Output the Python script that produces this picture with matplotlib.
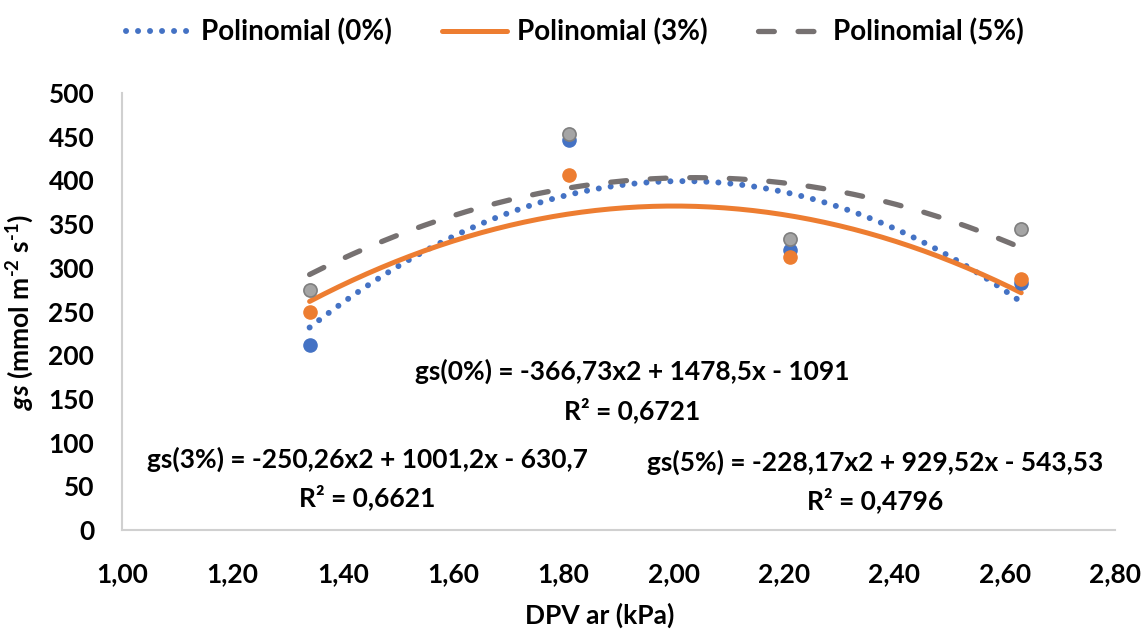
import matplotlib
matplotlib.use('Agg')
import matplotlib.pyplot as plt
from matplotlib.ticker import FuncFormatter
import numpy as np

# DPV ar (kPa) for each measurement
dpv = [1.34, 1.81, 2.21, 2.63]

# gs (mmol m-2 s-1) per treatment
gs_0 = [212, 446, 320, 283]
gs_3 = [250, 406, 312, 287]
gs_5 = [275, 453, 333, 344]

# trendline coefficients (a, b, c) as printed on the chart
coef_0 = [-366.73, 1478.5, -1091]
coef_3 = [-250.26, 1001.2, -630.7]
coef_5 = [-228.17, 929.52, -543.53]

labels = ['Polinomial (0%)', 'Polinomial (3%)', 'Polinomial (5%)']
eq_lines = [('gs(0%) = -366,73x2 + 1478,5x - 1091', 'R² = 0,6721'),
            ('gs(3%) = -250,26x2 + 1001,2x - 630,7', 'R² = 0,6621'),
            ('gs(5%) = -228,17x2 + 929,52x - 543,53', 'R² = 0,4796')]

FONT = 'Lato'
plt.rcParams['font.family'] = [FONT, 'DejaVu Sans']
plt.rcParams['mathtext.fontset'] = 'custom'
plt.rcParams['mathtext.rm'] = 'Lato:bold'
plt.rcParams['mathtext.it'] = 'Lato:italic:bold'
plt.rcParams['mathtext.bf'] = 'Lato:bold'

blue, orange, gray, dgray = '#4472C4', '#ED7D31', '#A5A5A5', '#767171'

fig = plt.figure(figsize=(11.45, 6.3), dpi=100)
ax = fig.add_axes([0.1066, 0.1587, 0.8672, 0.6937])

# measured points
ax.scatter(dpv, gs_0, s=90, color=blue, zorder=3)
ax.scatter(dpv, gs_3, s=90, color=orange, zorder=3)
ax.scatter(dpv, gs_5, s=90, color=gray, edgecolors='#7f7f7f', linewidths=1.2, zorder=3)

# polynomial trendlines
xs = np.linspace(min(dpv), max(dpv), 200)
l0, = ax.plot(xs, np.polyval(coef_0, xs), color=blue, lw=4.3,
              linestyle=(0, (0.01, 2.0)), dash_capstyle='round', zorder=2)
l3, = ax.plot(xs, np.polyval(coef_3, xs), color=orange, lw=3.6,
              solid_capstyle='round', zorder=2)
l5, = ax.plot(xs, np.polyval(coef_5, xs), color=dgray, lw=3.8,
              linestyle=(0, (3.0, 4.5)), dash_capstyle='round', zorder=2)

ax.set_xlim(1.0, 2.8)
ax.set_ylim(0, 500)
ax.set_xticks(np.arange(1.0, 2.81, 0.2))
ax.set_yticks(np.arange(0, 501, 50))
ax.xaxis.set_major_formatter(FuncFormatter(lambda v, p: f'{v:.2f}'.replace('.', ',')))
ax.tick_params(length=0, labelsize=19)
ax.tick_params(axis='x', pad=23)
ax.tick_params(axis='y', pad=20)
for t in ax.get_xticklabels() + ax.get_yticklabels():
    t.set_fontweight('bold')

for side in ['top', 'right']:
    ax.spines[side].set_visible(False)
for side in ['left', 'bottom']:
    ax.spines[side].set_color('#d0d0d0')
    ax.spines[side].set_linewidth(1.5)

ax.set_xlabel('DPV ar (kPa)', fontsize=19, fontweight='bold')
ax.xaxis.set_label_coords(0.481, -0.195)
ax.xaxis.label.set_va('center')
ax.set_ylabel(r'$\it{gs}$ (mmol m$^{\text{-2}}$ s$^{\text{-1}}$)', fontsize=19,
              fontweight='bold')
ax.yaxis.set_label_coords(-0.103, 0.5)
ax.yaxis.label.set_va('center')

# trendline equations: (x, y of first line, y of R² line)
eq_pos = [(1.924, 181, 137), (1.444, 81, 38), (2.365, 77, 34)]
for (eq, r2), (ex, ey1, ey2) in zip(eq_lines, eq_pos):
    ax.text(ex, ey1, eq, ha='center', va='center', fontsize=19, fontweight='bold')
    ax.text(ex, ey2, r2, ha='center', va='center', fontsize=19, fontweight='bold')

fig.legend([l0, l3, l5], labels, loc='center', bbox_to_anchor=(0.502, 0.949), ncol=3,
           frameon=False, handlelength=2.35, columnspacing=1.8, handletextpad=0.35,
           prop={'family': FONT, 'weight': 'bold', 'size': 20})

fig.savefig('out.png', dpi=100)
